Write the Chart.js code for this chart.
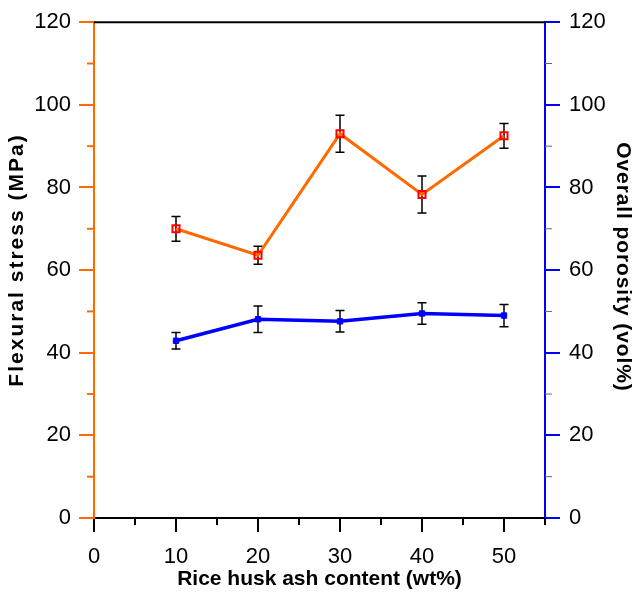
<!DOCTYPE html>
<html><head><meta charset="utf-8">
<script src="https://cdn.jsdelivr.net/npm/chart.js@4/dist/chart.umd.min.js"></script>
<style>html,body{margin:0;padding:0;background:#fff}#wrap{width:635px;height:599px}</style>
</head><body><div id="wrap"><canvas id="c" width="635" height="599"></canvas></div>
<script>
const ashContent = [10, 20, 30, 40, 50];
const flexuralStress = [70.0, 63.6, 93.0, 78.3, 92.5];
const flexuralErr = [3.0, 2.2, 4.5, 4.5, 3.0];
const porosity = [42.9, 48.1, 47.6, 49.5, 49.0];
const porosityErr = [2.0, 3.2, 2.6, 2.6, 2.7];
const xMinorTicks = [5, 15, 25, 35, 45, 55];
const yMinorTicks = [10, 30, 50, 70, 90, 110];
const xTitle = 'Rice husk ash content (wt%)';
const yTitle = 'Flexural stress (MPa)';
const y1Title = 'Overall porosity (vol%)';

const FONT = "'Liberation Sans', Arial, sans-serif";
const ORANGE = '#ff6a00';
const BLUE = '#0000ff';

const errorBars = {
  id: 'errorBars',
  beforeDatasetsDraw(chart) {
    const ctx = chart.ctx;
    const sets = [[flexuralStress, flexuralErr, 'y'], [porosity, porosityErr, 'y1']];
    ctx.save();
    ctx.strokeStyle = '#000';
    ctx.lineWidth = 1.5;
    sets.forEach(([vals, errs, axis]) => {
      const ys = chart.scales[axis];
      vals.forEach((v, i) => {
        const x = chart.scales.x.getPixelForValue(ashContent[i]);
        const t = ys.getPixelForValue(v + errs[i]);
        const b = ys.getPixelForValue(v - errs[i]);
        ctx.beginPath();
        ctx.moveTo(x, t); ctx.lineTo(x, b);
        ctx.moveTo(x - 4.5, t); ctx.lineTo(x + 4.5, t);
        ctx.moveTo(x - 4.5, b); ctx.lineTo(x + 4.5, b);
        ctx.stroke();
      });
    });
    ctx.restore();
  },
  afterDraw(chart) {
    const ctx = chart.ctx;
    const a = chart.chartArea;
    ctx.save();
    ctx.lineWidth = 2;
    ctx.strokeStyle = '#000';
    ctx.beginPath(); ctx.moveTo(a.left, a.top); ctx.lineTo(a.right, a.top); ctx.stroke();
    // minor ticks
    const xs = chart.scales.x;
    ctx.strokeStyle = '#000';
    xMinorTicks.forEach(v => {
      const x = xs.getPixelForValue(v);
      ctx.beginPath(); ctx.moveTo(x, a.bottom); ctx.lineTo(x, a.bottom + 7); ctx.stroke();
    });
    const yl = chart.scales.y;
    ctx.strokeStyle = ORANGE;
    yMinorTicks.forEach(v => {
      const y = yl.getPixelForValue(v);
      ctx.beginPath(); ctx.moveTo(a.left - 7, y); ctx.lineTo(a.left, y); ctx.stroke();
    });
    const yr = chart.scales.y1;
    ctx.strokeStyle = '#666';
    ctx.lineWidth = 1;
    yMinorTicks.forEach(v => {
      const y = yr.getPixelForValue(v);
      ctx.beginPath(); ctx.moveTo(a.right, y); ctx.lineTo(a.right + 7, y); ctx.stroke();
    });
    // axis titles
    ctx.fillStyle = '#000';
    ctx.textAlign = 'center';
    ctx.textBaseline = 'middle';
    ctx.font = 'bold 21px ' + FONT;
    ctx.letterSpacing = '0px';
    ctx.fillText(xTitle, (a.left + a.right) / 2, 579);
    ctx.save();
    ctx.translate(17, 261);
    ctx.rotate(-Math.PI / 2);
    ctx.letterSpacing = '2px';
    ctx.fillText(yTitle, 1, 0);
    ctx.restore();
    ctx.save();
    ctx.translate(623, 267);
    ctx.rotate(Math.PI / 2);
    ctx.letterSpacing = '0.9px';
    ctx.fillText(y1Title, 0, 0);
    ctx.restore();
    ctx.restore();
  }
};

new Chart(document.getElementById('c'), {
  type: 'line',
  data: {
    datasets: [
      {
        label: 'Flexural stress',
        data: ashContent.map((x, i) => ({x, y: flexuralStress[i]})),
        yAxisID: 'y',
        borderColor: ORANGE,
        borderWidth: 3,
        pointStyle: 'rect',
        pointRadius: 5,
        pointBorderColor: '#ff0000',
        pointBackgroundColor: 'rgba(0,0,0,0)',
        pointBorderWidth: 2,
        tension: 0
      },
      {
        label: 'Overall porosity',
        data: ashContent.map((x, i) => ({x, y: porosity[i]})),
        yAxisID: 'y1',
        borderColor: BLUE,
        borderWidth: 3.5,
        pointStyle: 'rect',
        pointRadius: 3.8,
        pointBorderColor: BLUE,
        pointBackgroundColor: BLUE,
        pointBorderWidth: 1,
        tension: 0
      }
    ]
  },
  options: {
    responsive: false,
    animation: false,
    layout: { padding: { top: 20, left: 0, right: 0, bottom: 0 } },
    plugins: { legend: { display: false }, tooltip: { enabled: false } },
    scales: {
      x: {
        type: 'linear', min: 0, max: 55,
        afterBuildTicks(s) { s.ticks = s.ticks.filter(t => t.value % 10 === 0); },
        afterFit(s) { s.height = 81; },
        ticks: { stepSize: 10, color: '#000', padding: 12, font: { family: FONT, size: 22 } },
        grid: { drawOnChartArea: false, drawTicks: true, tickLength: 14, tickColor: '#000', lineWidth: 2 },
        border: { color: '#000', width: 2 },
        title: { display: false }
      },
      y: {
        position: 'left', min: 0, max: 120,
        afterFit(s) { s.width = 94; },
        ticks: { stepSize: 20, color: '#000', padding: 8, font: { family: FONT, size: 22 } },
        grid: { drawOnChartArea: false, drawTicks: true, tickLength: 15, tickColor: ORANGE, lineWidth: 2 },
        border: { color: ORANGE, width: 2 },
        title: { display: false }
      },
      y1: {
        position: 'right', min: 0, max: 120,
        afterFit(s) { s.width = 90; },
        ticks: { stepSize: 20, color: '#000', padding: 9, font: { family: FONT, size: 22 } },
        grid: { drawOnChartArea: false, drawTicks: true, tickLength: 15, tickColor: BLUE, lineWidth: 2 },
        border: { color: BLUE, width: 2 },
        title: { display: false }
      }
    }
  },
  plugins: [errorBars]
});
</script></body></html>
